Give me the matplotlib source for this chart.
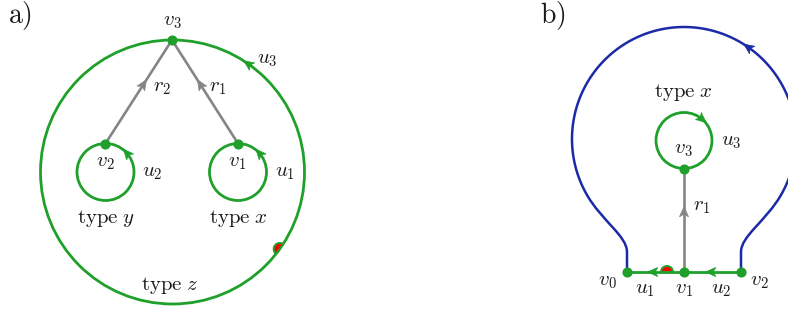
import numpy as np
import matplotlib.pyplot as plt
from matplotlib.patches import Circle, Wedge, Polygon
from matplotlib.path import Path
from matplotlib.patches import PathPatch

plt.rcParams["mathtext.fontset"] = "cm"

# colours
green = "#1fa02a"
blue = "#1b2aa6"
grey = "#858585"
red = "#ff0000"

# ---------------- panel a) geometry (pixel coordinates) ----------------
big_c = (172.5, 172.0)
big_r = 132.0
loops_a = [(105.5, 172.0), (238.0, 172.0)]   # centres of u2, u1
loop_r = 28.5
v3_a = (172.0, 40.0)
v2_a = (105.5, 143.5)
v1_a = (238.0, 143.5)

# ---------------- panel b) geometry ----------------
v0_b = (627.0, 272.0)
v1_b = (684.0, 272.0)
v2_b = (741.0, 272.0)
loop_b = (684.0, 140.5)
v3_b = (684.0, 169.0)
blue_c = (684.0, 139.0)
blue_r = 112.0

# labels: (text, x, y)
labels_a = [
    (r"$v_3$", 172, 21), (r"$u_3$", 267, 59), (r"$r_2$", 162, 87), (r"$r_1$", 218, 87),
    (r"$v_2$", 105, 162), (r"$u_2$", 152, 172), (r"$v_1$", 237, 162), (r"$u_1$", 285, 172),
]
labels_b = [
    (r"$v_3$", 683, 149), (r"$u_3$", 731, 141), (r"$r_1$", 702, 206),
    (r"$v_0$", 607, 281), (r"$u_1$", 645, 289), (r"$v_1$", 684, 289),
    (r"$u_2$", 721, 289), (r"$v_2$", 759, 281),
]
type_labels = [(r"$\mathrm{type}\ y$", 106, 223), (r"$\mathrm{type}\ x$", 238, 223),
               (r"$\mathrm{type}\ z$", 170, 290), (r"$\mathrm{type}\ x$", 683, 97)]


def arrowhead(ax, x, y, dx, dy, color, s=1.2):
    n = np.hypot(dx, dy)
    ux, uy = dx / n, dy / n
    pts = np.array([[4.5, 0], [-4.0, 3.8], [-1.8, 0], [-4.0, -3.8]]) * s
    rot = np.array([[ux, -uy], [uy, ux]])
    pts = pts @ rot.T + [x, y]
    ax.add_patch(Polygon(pts, closed=True, fc=color, ec=color, lw=0.5, zorder=5))


def circle_arrow(ax, c, r, phi_deg, ccw, color):
    # ccw = counterclockwise on screen (y axis points down)
    p = np.radians(phi_deg)
    x, y = c[0] + r * np.cos(p), c[1] + r * np.sin(p)
    if ccw:
        d = (np.sin(p), -np.cos(p))
    else:
        d = (-np.sin(p), np.cos(p))
    arrowhead(ax, x, y, d[0], d[1], color)


fig = plt.figure(figsize=(7.88, 3.13), dpi=100)
ax = fig.add_axes([0, 0, 1, 1])
ax.set_xlim(0, 788)
ax.set_ylim(313, 0)
ax.axis("off")

lw_g = 2.0
lw_gr = 1.9
# panel a
ax.add_patch(Circle(big_c, big_r, fill=False, ec=green, lw=lw_g, zorder=2))
for c in loops_a:
    ax.add_patch(Circle(c, loop_r, fill=False, ec=green, lw=lw_g, zorder=2))
for v in [v2_a, v1_a]:
    ax.plot([v[0], v3_a[0]], [v[1], v3_a[1]], color=grey, lw=lw_gr, zorder=1)
    t = 0.57
    arrowhead(ax, v[0] + t * (v3_a[0] - v[0]), v[1] + t * (v3_a[1] - v[1]),
              v3_a[0] - v[0], v3_a[1] - v[1], grey)
for c in loops_a:
    circle_arrow(ax, c, loop_r, -41, True, green)
circle_arrow(ax, big_c, big_r, -55, True, green)
ax.plot([v3_a[0], v2_a[0], v1_a[0]], [v3_a[1], v2_a[1], v1_a[1]], "o",
        color=green, ms=6.3, zorder=6)
# red half disc on outer loop
phi = 35.7
px = big_c[0] + big_r * np.cos(np.radians(phi))
py = big_c[1] + big_r * np.sin(np.radians(phi))
ax.add_patch(Wedge((px, py), 6.0, phi + 90, phi + 270, fc=red, ec=green, lw=1.4, zorder=4))

# panel b: blue outer curve
phis = np.radians(np.linspace(150, 390, 200))
arc = np.column_stack([blue_c[0] + blue_r * np.cos(phis), blue_c[1] + blue_r * np.sin(phis)])
p0 = arc[0]
d0 = np.array([np.sin(phis[0]), -np.cos(phis[0])])
left = [(v0_b[0], v0_b[1]), (v0_b[0], 252), (v0_b[0], 236), tuple(p0 + 30 * d0), tuple(p0)]
codes = [Path.MOVETO, Path.LINETO, Path.CURVE4, Path.CURVE4, Path.CURVE4]
verts = list(left) + [tuple(a) for a in arc[1:]]
codes += [Path.LINETO] * (len(arc) - 1)
p1 = arc[-1]
d1 = np.array([-np.sin(phis[-1]), np.cos(phis[-1])])
verts += [tuple(p1 + 30 * d1), (v2_b[0], 236), (v2_b[0], 252), (v2_b[0], v2_b[1])]
codes += [Path.CURVE4, Path.CURVE4, Path.CURVE4, Path.LINETO]
ax.add_patch(PathPatch(Path(verts, codes), fill=False, ec=blue, lw=1.8, zorder=2))
circle_arrow(ax, blue_c, blue_r, -55, True, blue)

# green loop and edges
ax.add_patch(Circle(loop_b, 28.0, fill=False, ec=green, lw=lw_g, zorder=2))
circle_arrow(ax, loop_b, 28.0, -50, False, green)
ax.plot([v3_b[0], v1_b[0]], [v3_b[1], v1_b[1]], color=grey, lw=lw_gr, zorder=1)
arrowhead(ax, 684, 212, 0, -1, grey)
ax.plot([v0_b[0], v2_b[0]], [v0_b[1], v2_b[1]], color=green, lw=lw_g, zorder=2)
arrowhead(ax, 653, 272, -1, 0, green)
arrowhead(ax, 711, 272, -1, 0, green)
ax.add_patch(Wedge((667, 272), 6.0, 180, 360, fc=red, ec=green, lw=1.4, zorder=4))
ax.plot([v0_b[0], v1_b[0], v2_b[0], v3_b[0]], [v0_b[1], v1_b[1], v2_b[1], v3_b[1]], "o",
        color=green, ms=6.3, zorder=6)

# text
for s, x, y in labels_a + labels_b:
    ax.text(x, y, s, fontsize=15, ha="center", va="center", color="#1a1a1a")
for s, x, y in type_labels:
    ax.text(x, y, s, fontsize=15, ha="center", va="baseline", color="#1a1a1a")
ax.text(8, 15, r"$\mathrm{a)}$", fontsize=20, ha="left", va="center", color="#1a1a1a")
ax.text(540, 15, r"$\mathrm{b)}$", fontsize=20, ha="left", va="center", color="#1a1a1a")

fig.savefig("out.png", dpi=100)
